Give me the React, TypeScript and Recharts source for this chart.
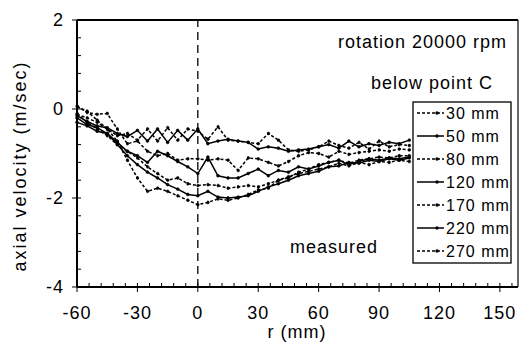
import React from "react";
import { LineChart, Line, XAxis, YAxis, ReferenceLine, Customized } from "recharts";

// radial positions (mm) and axial velocity (m/sec) per height below point C
const radius = [
  -60, -55, -50, -45, -40, -35, -30, -25, -20, -15, -10, -5, 0, 5, 10, 15, 20,
  25, 30, 35, 40, 45, 50, 55, 60, 65, 70, 75, 80, 85, 90, 95, 100, 105,
];
const v30 = [
  -0.12, -0.2, -0.3, -0.45, -0.72, -1.15, -1.55, -1.85, -1.78, -1.85, -1.95,
  -2.05, -2.15, -2.1, -2.02, -2.05, -2.0, -1.92, -1.82, -1.78, -1.6, -1.55,
  -1.42, -1.35, -1.25, -1.2, -1.15, -1.22, -1.15, -1.12, -1.08, -1.1, -1.05, -1.05,
];
const v50 = [
  -0.2, -0.35, -0.42, -0.55, -0.8, -1.05, -1.25, -1.42, -1.55, -1.7, -1.8,
  -1.92, -1.95, -1.85, -1.98, -2.0, -1.98, -1.95, -1.85, -1.75, -1.68, -1.6,
  -1.5, -1.45, -1.4, -1.3, -1.28, -1.2, -1.22, -1.15, -1.18, -1.12, -1.15, -1.1,
];
const v80 = [
  -0.1, -0.3, -0.45, -0.6, -0.8, -0.95, -1.1, -1.3, -1.45, -1.6, -1.55, -1.68,
  -1.72, -1.7, -1.72, -1.78, -1.75, -1.72, -1.75, -1.68, -1.6, -1.52, -1.45,
  -1.4, -1.35, -1.3, -1.22, -1.28, -1.2, -1.25, -1.18, -1.2, -1.15, -1.18,
];
const v120 = [
  -0.3, -0.38, -0.5, -0.55, -0.75, -0.95, -1.05, -1.2, -0.95, -1.05, -1.18,
  -1.3, -1.45, -1.08, -1.5, -1.55, -1.55, -1.45, -1.35, -1.5, -1.38, -1.42,
  -1.3, -1.35, -1.28, -1.2, -1.15, -1.25, -1.18, -1.12, -1.15, -1.1, -1.12, -1.08,
];
const v170 = [
  0.07, -0.08, -0.12, -0.1, -0.45, -0.78, -0.72, -0.95, -1.05, -1.0, -1.15,
  -1.12, -1.12, -1.15, -1.12, -1.15, -1.38, -1.1, -1.12, -1.2, -1.28, -1.18,
  -1.05, -0.98, -1.0, -1.08, -0.95, -1.02, -0.98, -0.95, -0.92, -0.95, -0.9, -0.92,
];
const v220 = [
  -0.15, -0.28, -0.38, -0.42, -0.55, -0.62, -0.48, -0.72, -0.45, -0.75, -0.48,
  -0.7, -0.45, -0.78, -0.72, -0.68, -0.72, -0.75, -0.9, -0.85, -0.88, -0.95,
  -0.92, -0.9, -0.85, -0.8, -0.88, -0.72, -0.85, -0.78, -0.82, -0.75, -0.78, -0.7,
];
const v270 = [
  0.05, -0.05, -0.25, -0.45, -0.6, -0.55, -0.7, -0.45, -0.72, -0.42, -0.7,
  -0.45, -0.5, -0.68, -0.4, -0.7, -0.72, -0.75, -0.78, -0.55, -0.7, -0.92,
  -0.95, -0.92, -0.85, -0.72, -0.82, -0.88, -0.75, -0.9, -0.72, -0.85, -0.8, -0.82,
];

const seriesNames = ["30 mm", "50 mm", "80 mm", "120 mm", "170 mm", "220 mm", "270 mm"];
const seriesKeys = ["v30", "v50", "v80", "v120", "v170", "v220", "v270"];
const seriesValues = [v30, v50, v80, v120, v170, v220, v270];

const xTicks = [
  -60, -54, -48, -42, -36, -30, -24, -18, -12, -6, 0, 6, 12, 18, 24, 30, 36, 42,
  48, 54, 60, 66, 72, 78, 84, 90, 96, 102, 108, 114, 120, 126, 132, 138, 144, 150, 156,
];
const yTicks = [
  -4, -3.6, -3.2, -2.8, -2.4, -2, -1.6, -1.2, -0.8, -0.4, 0, 0.4, 0.8, 1.2, 1.6, 2,
];

const data = radius.map((r, i) => {
  const row: { [key: string]: number } = { r };
  seriesKeys.forEach((k, j) => {
    row[k] = seriesValues[j][i];
  });
  return row;
});

const FONT = "'Liberation Sans', Arial, sans-serif";
const dotted = "3 2";
const dashFor = (i: number) => (i % 2 === 0 ? dotted : undefined);

const XTick = ({ x, y, payload }: any) => {
  const major = payload.value % 30 === 0;
  return (
    <g>
      <line x1={x} x2={x} y1={y - 4} y2={major ? y + 5 : y} stroke="#000" strokeWidth={1} />
      {major && (
        <text x={x} y={y + 32} textAnchor="middle" fontFamily={FONT} fontSize={18} letterSpacing={1} fill="#000">
          {payload.value}
        </text>
      )}
    </g>
  );
};

const YTick = ({ x, y, payload }: any) => {
  const v = payload.value;
  const major = Math.abs(v / 2 - Math.round(v / 2)) < 1e-6;
  return (
    <g>
      <line x1={major ? x - 5 : x} x2={x + 4} y1={y} y2={y} stroke="#000" strokeWidth={1} />
      {major && (
        <text x={x - 13} y={y + 6} textAnchor="end" fontFamily={FONT} fontSize={18} letterSpacing={1} fill="#000">
          {Math.round(v)}
        </text>
      )}
    </g>
  );
};

const Annotations = () => {
  const left = 413;
  const top = 102;
  const rowH = 23;
  return (
    <g fontFamily={FONT} fill="#000">
      <text x={20} y={166} fontSize={18} letterSpacing={2} textAnchor="middle" transform="rotate(-90 20 166)" dominantBaseline="central">
        axial velocity (m/sec)
      </text>
      <text x={297} y={338} fontSize={18} letterSpacing={1} textAnchor="middle">r (mm)</text>
      <text x={507} y={48} fontSize={18} letterSpacing={1} textAnchor="end">rotation 20000 rpm</text>
      <text x={493} y={89} fontSize={18} letterSpacing={1} textAnchor="end">below point C</text>
      <text x={290} y={253} fontSize={18} letterSpacing={1}>measured</text>
      <rect x={left} y={top} width={98} height={161} fill="#fff" stroke="#000" strokeWidth={1.3} />
      {seriesNames.map((name, i) => {
        const cy = top + 11 + i * rowH;
        return (
          <g key={name}>
            <line x1={left + 4} x2={left + 31} y1={cy} y2={cy} stroke="#000" strokeWidth={1.5} strokeDasharray={dashFor(i)} />
            <circle cx={left + 24} cy={cy} r={1.7} fill="#000" />
            <text x={left + 33} y={cy + 6} fontSize={16} letterSpacing={1}>{name}</text>
          </g>
        );
      })}
    </g>
  );
};

export default function App() {
  return (
    <div style={{ position: "absolute", left: 0, top: 0, background: "#fff" }}>
      <LineChart width={519} height={344} data={data} margin={{ top: 20, right: 1, bottom: 0, left: 0 }}>
        <XAxis
          dataKey="r"
          type="number"
          domain={[-60, 159]}
          ticks={xTicks}
          interval={0}
          height={57}
          tickSize={0}
          tickMargin={0}
          tickLine={false}
          tick={<XTick />}
          axisLine={{ stroke: "#000", strokeWidth: 2 }}
        />
        <YAxis
          type="number"
          domain={[-4, 2]}
          ticks={yTicks}
          interval={0}
          width={77}
          tickSize={0}
          tickMargin={0}
          tickLine={false}
          tick={<YTick />}
          axisLine={{ stroke: "#000", strokeWidth: 2 }}
        />
        <ReferenceLine y={2} stroke="#000" strokeWidth={1.8} />
        <ReferenceLine x={159} stroke="#000" strokeWidth={1.2} />
        <ReferenceLine x={0} stroke="#000" strokeWidth={1.3} strokeDasharray="8 5" />
        {seriesKeys.map((k, i) => (
          <Line
            key={k}
            dataKey={k}
            name={seriesNames[i]}
            type="linear"
            stroke="#000"
            strokeWidth={1.5}
            strokeDasharray={dashFor(i)}
            dot={{ r: 1.4, fill: "#000", stroke: "#000", strokeWidth: 0.6 }}
            isAnimationActive={false}
          />
        ))}
        <Customized component={Annotations} />
      </LineChart>
    </div>
  );
}
